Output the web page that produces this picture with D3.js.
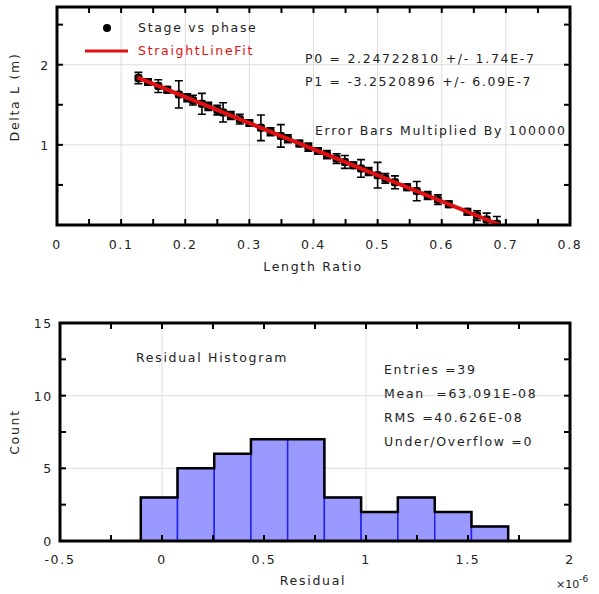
<!DOCTYPE html>
<html lang="en">
	<head>
		<meta charset="utf-8">
		<title>Stage vs phase fit</title>
		<script src="https://d3js.org/d3.v7.min.js"></script>
		<style type="text/css">
			body { margin: 0; background: #fff; }
			text { font-family: "DejaVu Sans", Verdana, sans-serif; letter-spacing: 1.7px; }
		</style>
	</head>
	<body>
<div id="chart"></div>
		<script type="text/javascript">
// data: length ratio vs delta L (error bars already x100000)
var lengthRatio = [0.127, 0.142, 0.158, 0.172, 0.190, 0.203, 0.212, 0.226, 0.236, 0.250,
	0.259, 0.271, 0.285, 0.300, 0.318, 0.333, 0.349, 0.360, 0.378, 0.392,
	0.407, 0.421, 0.436, 0.449, 0.462, 0.474, 0.486, 0.500, 0.512, 0.527,
	0.546, 0.561, 0.578, 0.594, 0.611, 0.640, 0.655, 0.670, 0.686];
var deltaL = [1.834, 1.785, 1.733, 1.688, 1.629, 1.587, 1.558, 1.512, 1.480, 1.434,
	1.405, 1.366, 1.320, 1.272, 1.213, 1.164, 1.112, 1.076, 1.018, 0.972,
	0.924, 0.878, 0.829, 0.787, 0.745, 0.706, 0.667, 0.621, 0.582, 0.533,
	0.472, 0.423, 0.368, 0.316, 0.260, 0.166, 0.117, 0.068, 0.016];
var deltaErr = [0.07, 0.04, 0.08, 0.04, 0.17, 0.05, 0.06, 0.13, 0.05, 0.06,
	0.12, 0.05, 0.06, 0.04, 0.16, 0.05, 0.14, 0.05, 0.04, 0.05,
	0.04, 0.05, 0.06, 0.08, 0.04, 0.11, 0.05, 0.16, 0.06, 0.08,
	0.04, 0.12, 0.05, 0.06, 0.04, 0.04, 0.06, 0.08, 0.09];
// fit line end points
var fitX = [0.125, 0.691];
var fitY = [1.8407, 0.0000];
var fitText = ["P0 = 2.24722810 +/- 1.74E-7", "P1 = -3.2520896 +/- 6.09E-7"];

// residual histogram (x in units of 1e-6)
var binEdges = [-0.104, 0.076, 0.256, 0.436, 0.616, 0.796, 0.976, 1.156, 1.337, 1.517, 1.697];
var binCounts = [3, 5, 6, 7, 7, 3, 2, 3, 2, 1];
var statsText = ["Entries =39", "Mean  =63.091E-08", "RMS =40.626E-08", "Under/Overflow =0"];

var topXTicks = [0, 0.1, 0.2, 0.3, 0.4, 0.5, 0.6, 0.7, 0.8];
var topYTicks = [1, 2];
var botXTicks = [-0.5, 0, 0.5, 1, 1.5, 2];
var botYTicks = [0, 5, 10, 15];

var W = 599, H = 594;
var ink = "#222";
var fs = 12.5;
var svg = d3.select("#chart").append("svg")
	.attr("width", W).attr("height", H);

// grid now, frame + inside ticks on all four sides later
function drawFrame(g, x, y, xMinor, yMinor, xGrid, yGrid) {
	var x0 = x.range()[0], x1 = x.range()[1];
	var y0 = y.range()[0], y1 = y.range()[1];
	g.selectAll(".gx").data(xGrid).enter().append("line")
		.attr("x1", d => x(d)).attr("x2", d => x(d))
		.attr("y1", y0).attr("y2", y1)
		.attr("stroke", "#dcdcdc").attr("stroke-width", 1);
	g.selectAll(".gy").data(yGrid).enter().append("line")
		.attr("x1", x0).attr("x2", x1)
		.attr("y1", d => y(d)).attr("y2", d => y(d))
		.attr("stroke", "#dcdcdc").attr("stroke-width", 1);
	return function() {
		var t = g.append("g").attr("stroke", "#000").attr("stroke-width", 2);
		xMinor.forEach(function(d) {
			t.append("line").attr("x1", x(d)).attr("x2", x(d)).attr("y1", y0).attr("y2", y0 - 6);
			t.append("line").attr("x1", x(d)).attr("x2", x(d)).attr("y1", y1).attr("y2", y1 + 6);
		});
		yMinor.forEach(function(d) {
			t.append("line").attr("x1", x0).attr("x2", x0 + 6).attr("y1", y(d)).attr("y2", y(d));
			t.append("line").attr("x1", x1).attr("x2", x1 - 6).attr("y1", y(d)).attr("y2", y(d));
		});
		g.append("rect")
			.attr("x", x0).attr("y", y1)
			.attr("width", x1 - x0).attr("height", y0 - y1)
			.attr("fill", "none").attr("stroke", "#000").attr("stroke-width", 3);
	};
}

// ---------- top plot ----------
var xTop = d3.scaleLinear().domain([0, 0.8]).range([57, 570]);
var yTop = d3.scaleLinear().domain([0, 2.72]).range([225, 7]);
var gTop = svg.append("g");

var finishTop = drawFrame(gTop, xTop, yTop,
	d3.range(0.05, 0.8, 0.05), d3.range(0.5, 2.72, 0.5),
	d3.range(0.1, 0.75, 0.1), topYTicks);

svg.append("clipPath").attr("id", "clipTop").append("rect")
	.attr("x", 57).attr("y", 7).attr("width", 513).attr("height", 218);

var pts = gTop.append("g").attr("clip-path", "url(#clipTop)");
var idx = d3.range(lengthRatio.length);
// error bars
pts.selectAll(".eb").data(idx).enter().append("path")
	.attr("d", function(i) {
		var cx = xTop(lengthRatio[i]);
		var ya = yTop(deltaL[i] + deltaErr[i]), yb = yTop(deltaL[i] - deltaErr[i]);
		return "M" + cx + "," + ya + "V" + yb +
			"M" + (cx - 4) + "," + ya + "H" + (cx + 4) +
			"M" + (cx - 4) + "," + yb + "H" + (cx + 4);
	})
	.attr("stroke", "#000").attr("stroke-width", 1.6).attr("fill", "none");
pts.selectAll("rect").data(idx).enter().append("rect")
	.attr("x", i => xTop(lengthRatio[i]) - 4)
	.attr("y", i => yTop(deltaL[i]) - 4)
	.attr("width", 8).attr("height", 8).attr("rx", 2)
	.attr("fill", "#000");
// fit line
pts.append("line")
	.attr("x1", xTop(fitX[0])).attr("y1", yTop(fitY[0]))
	.attr("x2", xTop(fitX[1])).attr("y2", yTop(fitY[1]))
	.attr("stroke", "#dd1111").attr("stroke-width", 4);

finishTop();

// tick labels
gTop.selectAll(".xl").data(topXTicks).enter().append("text")
	.attr("x", d => xTop(d)).attr("y", 249)
	.attr("text-anchor", "middle").attr("font-size", fs).attr("fill", ink)
	.text(d => d);
gTop.selectAll(".yl").data(topYTicks).enter().append("text")
	.attr("x", 50).attr("y", d => yTop(d) + 5)
	.attr("text-anchor", "end").attr("font-size", fs).attr("fill", ink)
	.text(d => d);
gTop.append("text").attr("x", 313).attr("y", 271)
	.attr("text-anchor", "middle").attr("font-size", fs).attr("fill", ink)
	.text("Length Ratio");
gTop.append("text").attr("transform", "translate(19,97) rotate(-90)")
	.attr("text-anchor", "middle").attr("font-size", fs).attr("fill", ink)
	.text("Delta L (m)");

// legend
gTop.append("circle").attr("cx", 107).attr("cy", 28).attr("r", 4).attr("fill", "#000");
gTop.append("text").attr("x", 138).attr("y", 32)
	.attr("font-size", fs).attr("fill", ink).text("Stage vs phase");
gTop.append("line").attr("x1", 85).attr("x2", 128).attr("y1", 51).attr("y2", 51)
	.attr("stroke", "#dd1111").attr("stroke-width", 3);
gTop.append("text").attr("x", 138).attr("y", 55)
	.attr("font-size", fs).attr("fill", "#dd1111").text("StraightLineFit");

gTop.selectAll(".fit").data(fitText).enter().append("text")
	.attr("x", 305).attr("y", (d, i) => 63 + i * 23)
	.attr("font-size", fs).attr("fill", ink).text(d => d);
gTop.append("text").attr("x", 315).attr("y", 135)
	.attr("font-size", fs).attr("fill", ink).text("Error Bars Multiplied By 100000");

// ---------- bottom plot ----------
var xBot = d3.scaleLinear().domain([-0.5, 2]).range([60, 570]);
var yBot = d3.scaleLinear().domain([0, 15]).range([541, 323]);
var gBot = svg.append("g");

var finishBot = drawFrame(gBot, xBot, yBot,
	d3.range(-0.25, 2, 0.25), d3.range(2.5, 15, 2.5),
	[0, 1], [5, 10]);

gBot.selectAll(".bar").data(binCounts).enter().append("rect")
	.attr("x", (d, i) => xBot(binEdges[i]))
	.attr("y", d => yBot(d))
	.attr("width", (d, i) => xBot(binEdges[i + 1]) - xBot(binEdges[i]))
	.attr("height", d => yBot(0) - yBot(d))
	.attr("fill", "#9999ff").attr("stroke", "#2222ee").attr("stroke-width", 1.5);

// outer step outline
var step = "M" + xBot(binEdges[0]) + "," + yBot(0);
binCounts.forEach(function(c, i) {
	step += "V" + yBot(c) + "H" + xBot(binEdges[i + 1]);
});
step += "V" + yBot(0);
gBot.append("path").attr("d", step)
	.attr("fill", "none").attr("stroke", "#000").attr("stroke-width", 2.5);

finishBot();

gBot.selectAll(".xl").data(botXTicks).enter().append("text")
	.attr("x", d => xBot(d)).attr("y", 564)
	.attr("text-anchor", "middle").attr("font-size", fs).attr("fill", ink)
	.text(d => d);
gBot.selectAll(".yl").data(botYTicks).enter().append("text")
	.attr("x", 53).attr("y", d => yBot(d) + 5)
	.attr("text-anchor", "end").attr("font-size", fs).attr("fill", ink)
	.text(d => d);
gBot.append("text").attr("x", 313).attr("y", 585)
	.attr("text-anchor", "middle").attr("font-size", fs).attr("fill", ink)
	.text("Residual");
gBot.append("text").attr("transform", "translate(19,432) rotate(-90)")
	.attr("text-anchor", "middle").attr("font-size", fs).attr("fill", ink)
	.text("Count");
var mult = gBot.append("text").attr("x", 556).attr("y", 588)
	.attr("font-size", 11).attr("fill", ink).style("letter-spacing", "0px");
mult.append("tspan").text("\u00d710");
mult.append("tspan").attr("dy", -6).attr("font-size", 9).text("-6");

gBot.append("text").attr("x", 136).attr("y", 362)
	.attr("font-size", fs).attr("fill", ink).text("Residual Histogram");
gBot.selectAll(".st").data(statsText).enter().append("text")
	.attr("x", 384).attr("y", (d, i) => 374 + i * 24)
	.attr("font-size", fs).attr("fill", ink)
	.style("white-space", "pre").text(d => d);

		</script>
	</body>
</html>
